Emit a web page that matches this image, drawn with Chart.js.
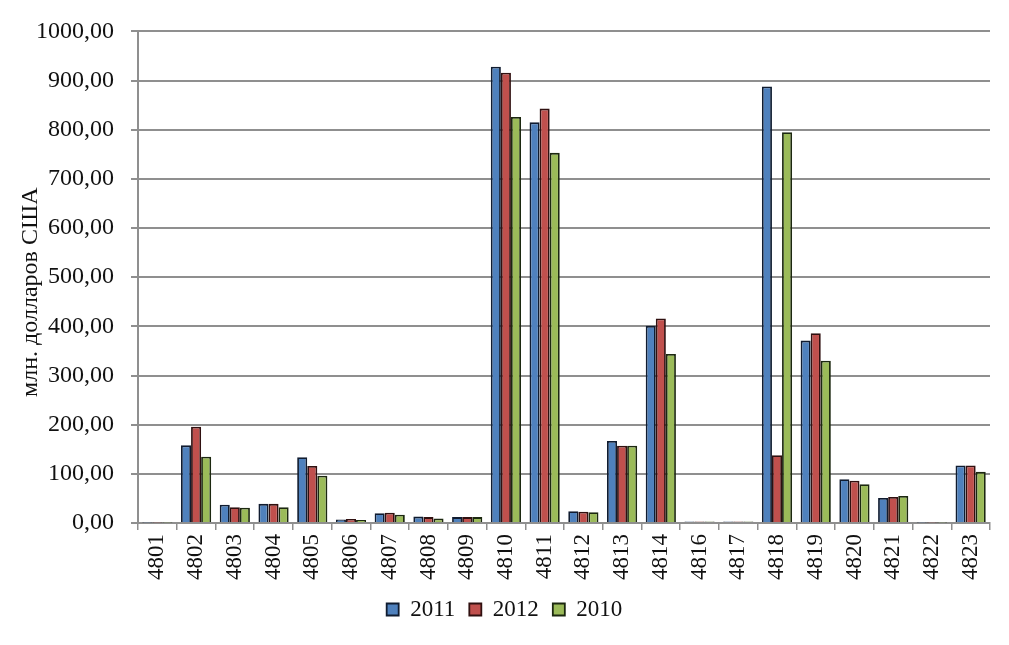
<!DOCTYPE html>
<html>
<head>
<meta charset="utf-8">
<script src="https://cdn.jsdelivr.net/npm/chart.js@4/dist/chart.umd.min.js"></script>
<style>
  html, body { margin: 0; padding: 0; background: #fff; }
  #wrap { width: 1009px; height: 645px; }
</style>
</head>
<body>
<div id="wrap"><canvas id="barChart"></canvas></div>
<script>
let codes = ["4801", "4802", "4803", "4804", "4805", "4806", "4807", "4808", "4809", "4810", "4811",
             "4812", "4813", "4814", "4816", "4817", "4818", "4819", "4820", "4821", "4822", "4823"];
let values2011 = [1, 158, 37, 39, 134, 7, 20, 13, 12, 928, 815, 24, 167, 401, 3, 3, 888, 371, 89, 51, 1, 117];
let values2012 = [1, 196, 32, 39, 116, 8, 21, 12, 12, 916, 843, 23, 157, 416, 3, 3, 138, 386, 86, 53, 1, 117];
let values2010 = [1, 135, 31, 32, 96, 6, 17, 9, 12, 826, 753, 22, 157, 344, 3, 3, 795, 330, 79, 55, 1, 104];
let seriesNames = ["2011", "2012", "2010"];
let yTicks = [0, 100, 200, 300, 400, 500, 600, 700, 800, 900, 1000];
let yTitle = "млн. долларов США";

let serif = "'Liberation Serif', serif";
let gridGray = "#8f8f8f";

// axis title drawn by hand so it can sit under the wide top label, as in the original
let yTitlePlugin = {
    id: "yTitle",
    afterDraw(chart) {
        let ctx = chart.ctx;
        let area = chart.chartArea;
        ctx.save();
        ctx.translate(31, (area.top + area.bottom) / 2 + 15);
        ctx.rotate(-Math.PI / 2);
        ctx.font = "24px 'Liberation Serif', serif";
        ctx.fillStyle = "#111";
        ctx.textAlign = "center";
        ctx.textBaseline = "middle";
        ctx.fillText(yTitle, 0, 0);
        ctx.restore();
    }
};

new Chart("barChart", {
    type: "bar",
    data: {
        labels: codes,
        datasets: [
            { label: seriesNames[0], data: values2011, backgroundColor: "#4f81bd", borderColor: "#101c30", borderWidth: 1.8 },
            { label: seriesNames[1], data: values2012, backgroundColor: "#c0504d", borderColor: "#301010", borderWidth: 1.8 },
            { label: seriesNames[2], data: values2010, backgroundColor: "#9bbb59", borderColor: "#1c2810", borderWidth: 1.8 }
        ]
    },
    plugins: [yTitlePlugin],
    options: {
        responsive: true,
        maintainAspectRatio: false,
        animation: false,
        layout: { padding: { top: 19, right: 19, left: 19, bottom: 14 } },
        datasets: { bar: { categoryPercentage: 0.78, barPercentage: 1 } },
        plugins: {
            legend: {
                position: "bottom",
                labels: {
                    font: { family: serif, size: 23 },
                    color: "#111",
                    boxWidth: 12,
                    boxHeight: 12,
                    padding: 14
                }
            },
            title: { display: false },
            tooltip: { enabled: false }
        },
        scales: {
            x: {
                grid: { display: true, drawOnChartArea: false, drawTicks: true, tickLength: 7, color: gridGray, lineWidth: 1.5, offset: true },
                border: { display: true, color: gridGray, width: 2 },
                ticks: {
                    font: { family: serif, size: 23 },
                    color: "#111",
                    minRotation: 90,
                    maxRotation: 90,
                    padding: 4
                }
            },
            y: {
                min: 0,
                max: 1000,
                afterBuildTicks: (axis) => { axis.ticks = yTicks.map(v => ({ value: v })); },
                grid: { color: gridGray, lineWidth: 2, tickLength: 7 },
                border: { display: true, color: gridGray, width: 2 },
                ticks: {
                    font: { family: serif, size: 24 },
                    color: "#111",
                    padding: 17,
                    callback: (v) => Number(v).toFixed(2).replace(".", ",")
                }
            }
        }
    }
});
</script>
</body>
</html>
